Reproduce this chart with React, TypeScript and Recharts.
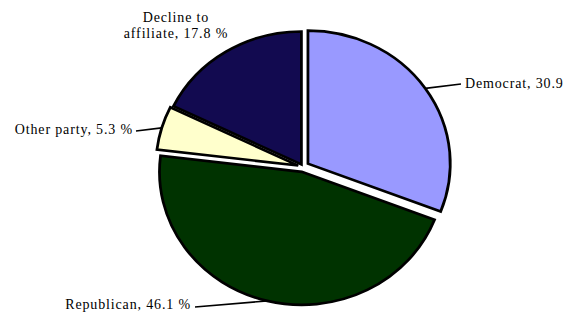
import { PieChart, Pie, Cell } from 'recharts';

const PARTIES = ['Democrat', 'Republican', 'Other party', 'Decline to affiliate'];
const SHARES = [30.9, 46.1, 5.3, 17.8];

const COLORS = ['#9999ff', '#003300', '#ffffcc', '#120a50'];
// how far each slice is pulled out of the pie, px
const EXPLODE = [6, 5, 5, 3];

const W = 564;
const H = 312;
const CX = 303;
const CY = 167;
const R = 133;
const SX = 1.07; // the original pie is a little wider than tall
const START = 90;
const RAD = Math.PI / 180;
const FONT = '"Liberation Serif", "DejaVu Serif", serif';

const total = SHARES.reduce((a, b) => a + b, 0);
const mids = SHARES.map((v, i) => {
  const before = SHARES.slice(0, i).reduce((a, b) => a + b, 0);
  return START - (360 * (before + v / 2)) / total;
});

const data = PARTIES.map((name, i) => ({ name, value: SHARES[i] }));

const shift = (i: number) => {
  const a = mids[i] * RAD;
  return [EXPLODE[i] * Math.cos(a), -EXPLODE[i] * Math.sin(a)];
};

// where each label sits, and where its leader line ends
const LABELS: { x: number; y: number; anchor: 'start' | 'end' | 'middle'; line: number[] | null; wrap?: number }[] = [
  { x: 465, y: 83, anchor: 'start', line: [461, 84] },
  { x: 191, y: 304, anchor: 'end', line: [195, 307] },
  { x: 133, y: 129, anchor: 'end', line: [136, 131] },
  { x: 176, y: 17, anchor: 'middle', line: null, wrap: 2 },
];

const renderLabel = (props: any) => {
  const { cx, cy, midAngle, outerRadius, index, name, value } = props;
  const lay = LABELS[index];
  const [dx, dy] = shift(index);
  const a = midAngle * RAD;
  const ex = cx + dx + SX * outerRadius * Math.cos(a);
  const ey = cy + dy - outerRadius * Math.sin(a);
  const text = `${name}, ${Number(value).toFixed(1)} %`;
  let lines = [text];
  if (lay.wrap) {
    const words = text.split(' ');
    lines = [words.slice(0, lay.wrap).join(' '), words.slice(lay.wrap).join(' ')];
  }
  return (
    <g>
      {lay.line && (
        <path
          d={`M${ex},${ey} L${lay.line[0]},${lay.line[1]}`}
          stroke="#000"
          strokeWidth={1.6}
          fill="none"
        />
      )}
      <text
        x={lay.x}
        y={lay.y}
        textAnchor={lay.anchor}
        fontFamily={FONT}
        fontSize={14}
        letterSpacing={0.85}
        fill="#000"
      >
        {lines.map((l, k) => (
          <tspan key={k} x={lay.x} dy={k === 0 ? '0.35em' : 16}>
            {l}
          </tspan>
        ))}
      </text>
    </g>
  );
};

export default function App() {
  return (
    <div style={{ position: 'absolute', left: 0, top: 0, width: W, height: H, background: '#fff' }}>
      <PieChart width={W} height={H} margin={{ top: 0, right: 0, bottom: 0, left: 0 }}>
        <Pie
          data={data}
          dataKey="value"
          nameKey="name"
          cx={CX}
          cy={CY}
          outerRadius={R}
          startAngle={START}
          endAngle={START - 360}
          stroke="#000"
          strokeWidth={2.6}
          label={renderLabel}
          labelLine={false}
          isAnimationActive={false}
        >
          {data.map((_, i) => {
            const [dx, dy] = shift(i);
            return (
              <Cell
                key={i}
                fill={COLORS[i]}
                transform={`translate(${dx} ${dy}) translate(${CX} ${CY}) scale(${SX} 1) translate(${-CX} ${-CY})`}
              />
            );
          })}
        </Pie>
      </PieChart>
    </div>
  );
}
